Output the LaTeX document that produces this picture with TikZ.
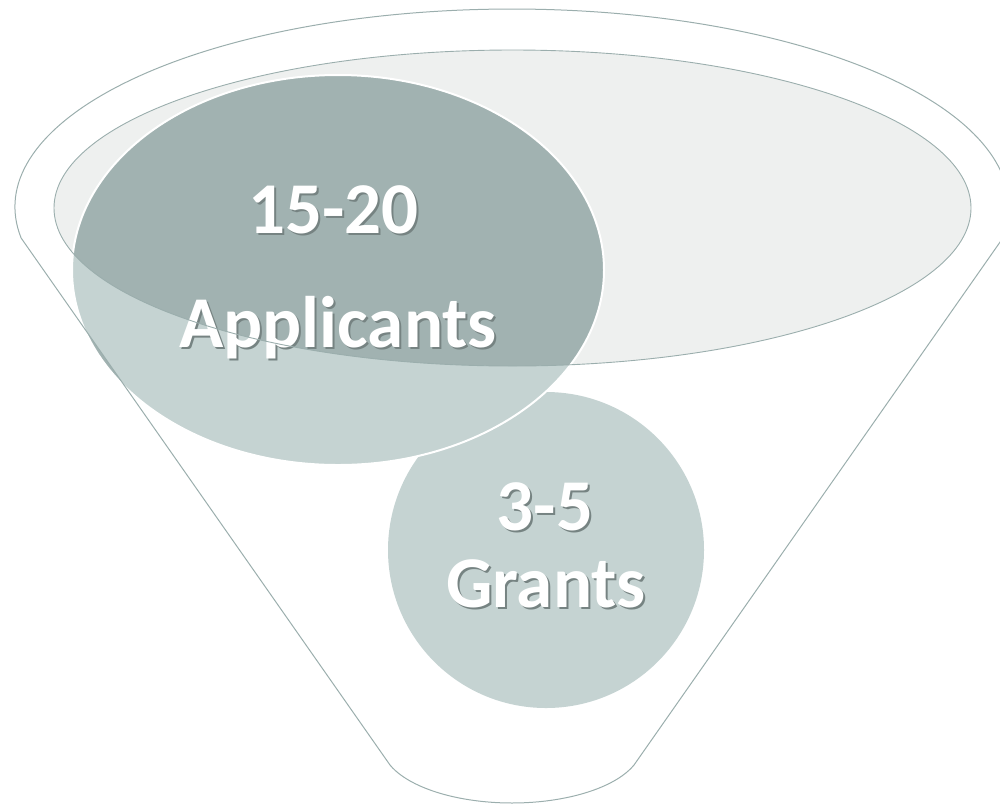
\documentclass[tikz,border=0pt]{standalone}
\usepackage{fontspec}
\setmainfont{Carlito}
\definecolor{fline}{RGB}{155,174,173}
\definecolor{innerfill}{RGB}{238,240,239}
\definecolor{darkfill}{RGB}{161,178,177}
\definecolor{lightfill}{RGB}{197,211,210}
\definecolor{shadowc}{RGB}{118,131,130}
\def\funnelshape{(21.12,238) arc[start angle=189,end angle=-9,x radius=497pt,y radius=198pt] -- (634,765) arc[start angle=-20.2,end angle=-159.8,x radius=130pt,y radius=58pt] -- cycle}
\def\innerellipse{(512.5,208) ellipse[x radius=458.5pt,y radius=158pt]}
\def\applellipse{(338,270) ellipse[x radius=266pt,y radius=195pt]}
\newcommand\shadowedtext[1]{\makebox[0pt][l]{\hspace*{2pt}\raisebox{-2.5pt}{\textcolor{shadowc}{#1}}}#1}
\begin{document}
\begin{tikzpicture}[x=1pt,y=-1pt,
  lbl/.style={text=white, font=\fontsize{73}{80}\selectfont\bfseries, anchor=base, inner sep=0pt},
  outline/.style={draw=fline, line width=1pt}]
\useasboundingbox (0,0) rectangle (1000,804);
% top opening fill
\fill[innerfill] \innerellipse;
% grants circle
\fill[lightfill] (546,550) circle[radius=158pt];
% applicants ellipse with dark/light regions
\fill[darkfill] \applellipse;
\begin{scope}
  \clip \funnelshape;
  \fill[lightfill] \applellipse;
\end{scope}
\begin{scope}
  \clip \innerellipse;
  \fill[darkfill] \applellipse;
\end{scope}
\draw[white, line width=2pt] \applellipse;
% funnel outline
\draw[outline] \funnelshape;
% texts
\node[lbl] (t1) at (333.5,233) {\shadowedtext{15-20}};
\node[lbl] (t2) at (338,347) {\shadowedtext{Applicants}};
\node[lbl] (t3) at (545,530) {\shadowedtext{3-5}};
\node[lbl] (t4) at (546,607) {\shadowedtext{Grants}};
% opening rim on top
\draw[outline, line width=0.9pt] \innerellipse;
\end{tikzpicture}
\end{document}
